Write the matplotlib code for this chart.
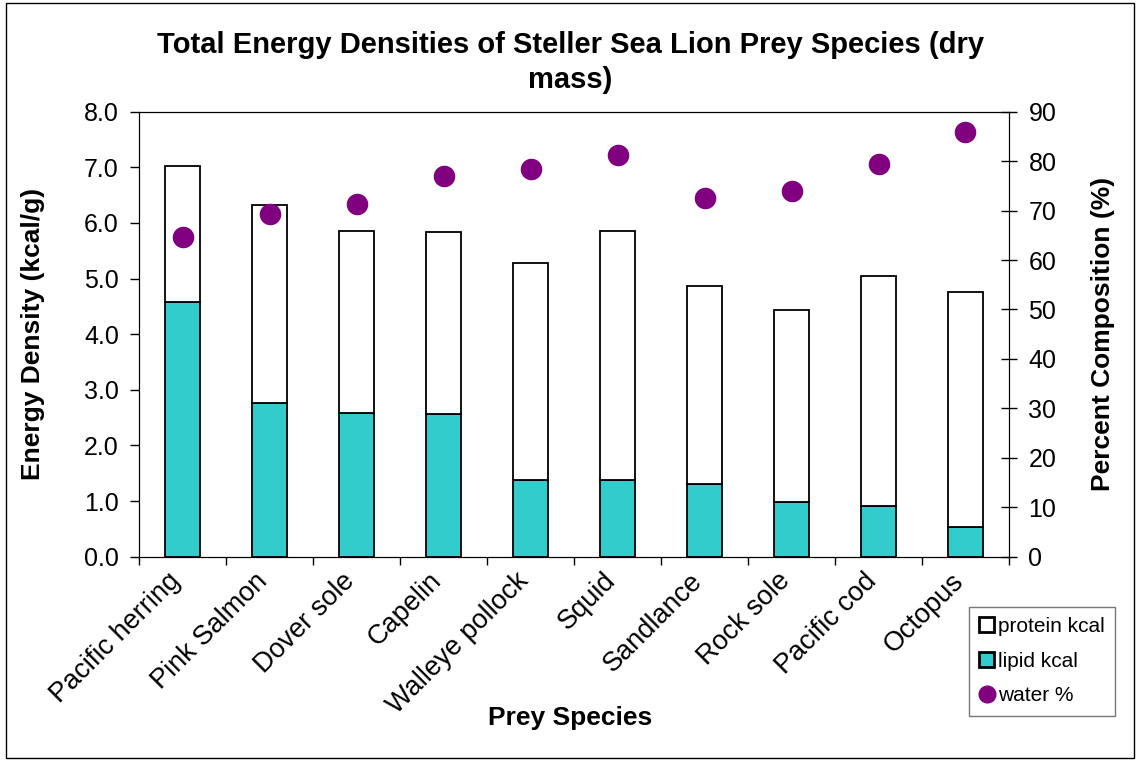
import matplotlib
matplotlib.use("Agg")
import matplotlib.pyplot as plt
from matplotlib.patches import Rectangle
from matplotlib.lines import Line2D
import numpy as np

plt.rcParams['font.family'] = ['Liberation Sans', 'DejaVu Sans']

# data
species = ['Pacific herring', 'Pink Salmon', 'Dover sole', 'Capelin', 'Walleye pollock',
           'Squid', 'Sandlance', 'Rock sole', 'Pacific cod', 'Octopus']
total_kcal = [7.03, 6.32, 5.85, 5.84, 5.28, 5.85, 4.86, 4.44, 5.05, 4.76]
lipid_kcal = [4.58, 2.76, 2.58, 2.56, 1.38, 1.37, 1.31, 0.98, 0.92, 0.54]
water_pct = [64.7, 69.3, 71.4, 77.0, 78.4, 81.3, 72.6, 73.9, 79.5, 85.8]

protein_kcal = [t - l for t, l in zip(total_kcal, lipid_kcal)]

teal = '#33CCCC'
purple = '#800080'

fig = plt.figure(figsize=(11.36, 7.61), dpi=100)
ax = fig.add_axes([0.1224, 0.2685, 0.7658, 0.5847])
ax2 = ax.twinx()

x = np.arange(len(species))
w = 0.41
ax.bar(x, lipid_kcal, w, color=teal, edgecolor='black', linewidth=1.3, zorder=2)
ax.bar(x, protein_kcal, w, bottom=lipid_kcal, color='white', edgecolor='black', linewidth=1.3, zorder=2)
ax2.scatter(x, water_pct, s=210, color=purple, zorder=3)

ax.set_xlim(-0.5, len(species) - 0.5)
ax.set_ylim(0, 8)
ax.set_yticks(np.arange(0, 8.1, 1))
ax.set_yticklabels([f'{v:.1f}' for v in np.arange(0, 8.1, 1)], fontsize=18)
ax2.set_ylim(0, 90)
ax2.set_yticks(np.arange(0, 91, 10))
ax2.tick_params(axis='y', labelsize=18, direction='inout', length=12, width=1, pad=8)
ax.tick_params(axis='y', direction='out', length=6.5, width=1, pad=8)

# category ticks at the boundaries, labels at the centres
ax.set_xticks(np.arange(-0.5, len(species), 1))
ax.set_xticklabels([])
ax.tick_params(axis='x', direction='out', length=6, width=1)
for i, name in enumerate(species):
    ax.text(i - 0.17, -0.2, name, rotation=45, ha='right', va='top',
            rotation_mode='anchor', fontsize=19.5, transform=ax.transData)

ax.set_ylabel('Energy Density (kcal/g)', fontsize=19, fontweight='bold', labelpad=28)
ax2.set_ylabel('Percent Composition (%)', fontsize=19, fontweight='bold', labelpad=25)
fig.text(0.502, 0.057, 'Prey Species', fontsize=19, fontweight='bold', ha='center', va='center')
fig.text(0.502, 0.918, 'Total Energy Densities of Steller Sea Lion Prey Species (dry\nmass)',
         fontsize=21, fontweight='bold', ha='center', va='center', linespacing=1.3)

handles = [Rectangle((0, 0), 1, 1, facecolor='white', edgecolor='black', linewidth=2),
           Rectangle((0, 0), 1, 1, facecolor=teal, edgecolor='black', linewidth=2),
           Line2D([], [], marker='o', color=purple, linestyle='none', markersize=12)]
leg = fig.legend(handles, ['protein kcal', 'lipid kcal', 'water %'],
                 loc='upper left', bbox_to_anchor=(0.853, 0.203), fontsize=15,
                 frameon=True, fancybox=False, edgecolor='#555555', handlelength=0.7,
                 handleheight=0.7, handletextpad=0.2, labelspacing=0.75, borderpad=0.5,
                 borderaxespad=0)
leg.get_frame().set_linewidth(1)

fig.patches.append(Rectangle((0.005, 0.004), 0.993, 0.992, transform=fig.transFigure,
                             fill=False, edgecolor='black', linewidth=1))

fig.savefig('out.png', dpi=100)
